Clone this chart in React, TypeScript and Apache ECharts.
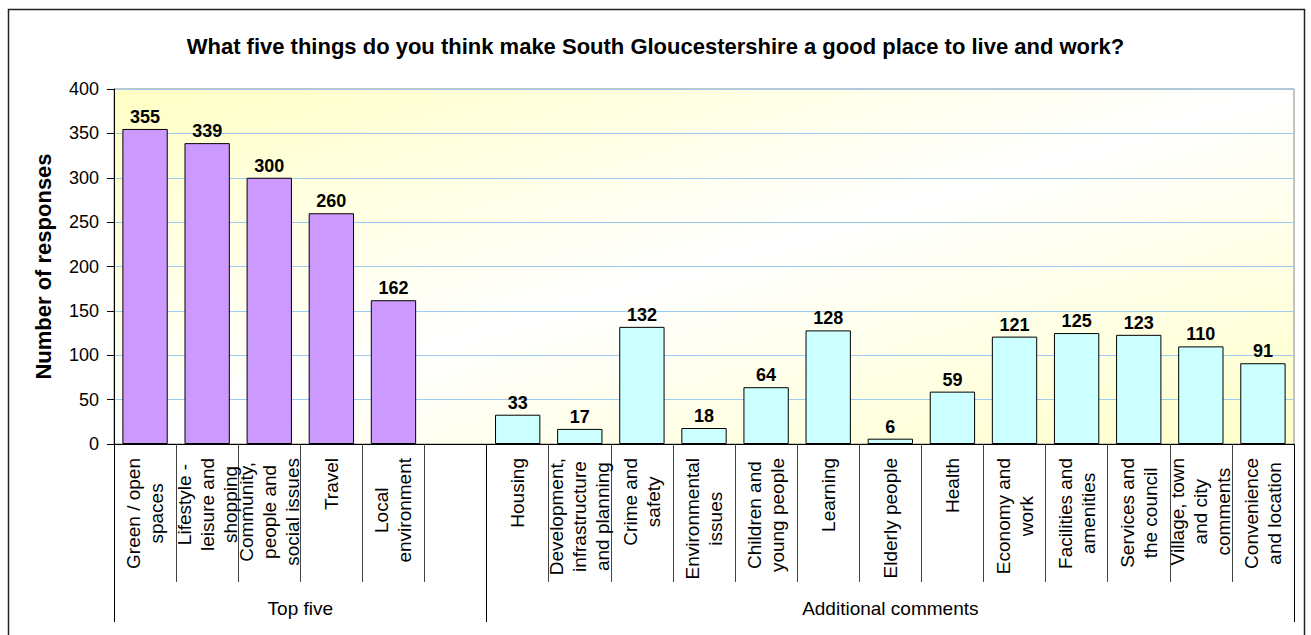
import React, { useEffect, useRef } from "react";
import * as echarts from "echarts";

// ---- data ----
const topFiveLabels = [
  "Green / open\nspaces",
  "Lifestyle -\nleisure and\nshopping",
  "Community,\npeople and\nsocial issues",
  "Travel",
  "Local\nenvironment",
];
const topFiveValues = [355, 339, 300, 260, 162];

const additionalLabels = [
  "Housing",
  "Development,\ninfrastructure\nand planning",
  "Crime and\nsafety",
  "Environmental\nissues",
  "Children and\nyoung people",
  "Learning",
  "Elderly people",
  "Health",
  "Economy and\nwork",
  "Facilities and\namenities",
  "Services and\nthe council",
  "Village, town\nand city\ncomments",
  "Convenience\nand location",
];
const additionalValues = [33, 17, 132, 18, 64, 128, 6, 59, 121, 125, 123, 110, 91];

const groupNames = ["Top five", "Additional comments"];
const yTicks = [0, 50, 100, 150, 200, 250, 300, 350, 400];

const TITLE = "What five things do you think make South Gloucestershire a good place to live and work?";
const Y_NAME = "Number of responses";

// ---- styles ----
const FONT = 'Arial, "Liberation Sans", sans-serif';
const PURPLE = "#CC99FF";
const CYAN = "#CCFFFF";
const W = 1311;
const H = 635;
const GRID = { left: 114, top: 89, right: 17, bottom: 191 };

export default function App() {
  const ref = useRef<HTMLDivElement>(null);

  useEffect(() => {
    document.body.style.margin = "0";
    if (!ref.current) return;
    const chart = echarts.init(ref.current, undefined, { renderer: "svg" });

    // categories: top five + one empty slot, then additional comments
    const categories = [...topFiveLabels, "", ...additionalLabels];
    const groupSizes = [topFiveLabels.length + 1, additionalLabels.length];
    const total = categories.length;
    const data: any[] = [
      ...topFiveValues.map((v) => ({ value: v, itemStyle: { color: PURPLE } })),
      { value: "-" },
      ...additionalValues.map((v) => ({ value: v, itemStyle: { color: CYAN } })),
    ];

    // group boundaries and centres
    const bounds = [0];
    groupSizes.forEach((s) => bounds.push(bounds[bounds.length - 1] + s));
    const centres = groupSizes.map((s, i) => bounds[i] + s / 2);

    // diagonal gradient (yellow corners, white along the anti-diagonal)
    const px0 = GRID.left;
    const py0 = GRID.top;
    const pw = W - GRID.left - GRID.right;
    const ph = H - GRID.top - GRID.bottom;
    const cx = px0 + pw / 2;
    const cy = py0 + ph / 2;
    const len = Math.sqrt(pw * pw + ph * ph);
    const nx = ph / len;
    const ny = pw / len;
    const proj = (pw / 2) * nx + (ph / 2) * ny;
    const bg = new echarts.graphic.LinearGradient(
      cx - nx * proj,
      cy - ny * proj,
      cx + nx * proj,
      cy + ny * proj,
      [
        { offset: 0, color: "#FFFFC4" },
        { offset: 0.5, color: "#FFFFFF" },
        { offset: 1, color: "#FFFFC8" },
      ],
      true
    );

    chart.setOption({
      animation: false,
      textStyle: { fontFamily: FONT, color: "#000" },
      title: {
        text: TITLE,
        left: "center",
        top: 30,
        textStyle: { fontFamily: FONT, fontSize: 22, fontWeight: "bold", color: "#000" },
      },
      graphic: [
        {
          type: "rect",
          shape: { x: 8.5, y: 9.5, width: 1296, height: 700 },
          style: { fill: "none", stroke: "#222", lineWidth: 1.5 },
          silent: true,
          z: 100,
        },
      ],
      grid: {
        ...GRID,
        show: true,
        backgroundColor: bg,
        borderColor: "#888",
        borderWidth: 1,
        containLabel: false,
      },
      xAxis: [
        {
          type: "category",
          data: categories,
          position: "bottom",
          axisLine: { show: true, lineStyle: { color: "#000", width: 1 } },
          axisTick: {
            show: true,
            interval: 0,
            length: 138,
            lineStyle: { color: "#444", width: 1 },
          },
          axisLabel: {
            interval: 0,
            rotate: 90,
            margin: 14,
            color: "#000",
            fontSize: 19,
            fontFamily: FONT,
            formatter: (v: string) =>
              v === "" ? "" : v.split("\n").map((l) => `{c|${l}}`).join("\n"),
            rich: {
              c: { align: "center", fontSize: 19, lineHeight: 23, fontFamily: FONT, color: "#000" },
            },
          },
          splitLine: { show: false },
        },
        {
          type: "value",
          position: "bottom",
          min: 0,
          max: total,
          axisLine: { show: false },
          splitLine: { show: false },
          axisTick: {
            show: true,
            customValues: bounds,
            length: 178,
            lineStyle: { color: "#000", width: 1 },
          },
          axisLabel: {
            show: true,
            customValues: centres,
            margin: 155,
            fontSize: 19,
            fontFamily: FONT,
            color: "#000",
            formatter: (v: number) => {
              const i = centres.findIndex((c) => Math.abs(c - v) < 1e-6);
              return i >= 0 ? groupNames[i] : "";
            },
          },
        },
      ],
      yAxis: {
        type: "value",
        min: 0,
        max: yTicks[yTicks.length - 1],
        interval: yTicks[1] - yTicks[0],
        name: Y_NAME,
        nameLocation: "middle",
        nameGap: 60,
        nameTextStyle: { fontFamily: FONT, fontSize: 22, fontWeight: "bold", color: "#000" },
        axisLine: { show: true, lineStyle: { color: "#000", width: 1 } },
        axisTick: { show: true, length: 7, lineStyle: { color: "#000" } },
        axisLabel: { margin: 15, fontSize: 18, fontFamily: FONT, color: "#000" },
        splitLine: { show: true, lineStyle: { color: "#9DCBF2", width: 1 } },
      },
      series: [
        {
          type: "bar",
          xAxisIndex: 0,
          data,
          barCategoryGap: "27%",
          itemStyle: { borderColor: "#000", borderWidth: 1 },
          label: {
            show: true,
            position: "top",
            distance: 3,
            fontSize: 18,
            fontWeight: "bold",
            fontFamily: FONT,
            color: "#000",
          },
        },
      ],
    });

    return () => chart.dispose();
  }, []);

  return <div ref={ref} style={{ width: W, height: H }} />;
}
